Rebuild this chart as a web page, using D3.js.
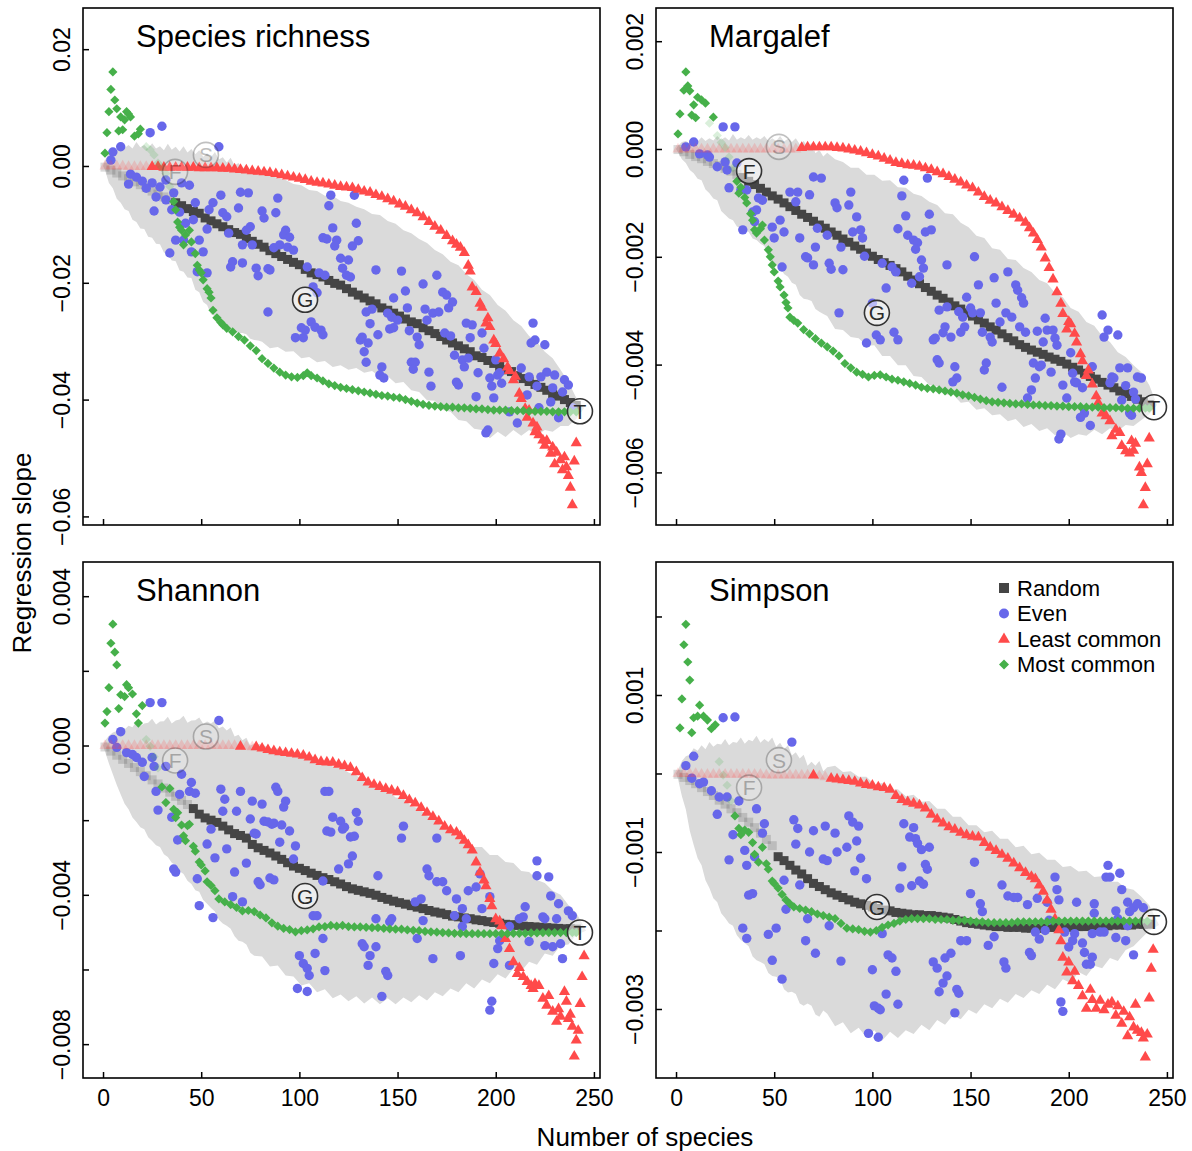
<!DOCTYPE html>
<html><head><meta charset="utf-8">
<script src="https://cdn.jsdelivr.net/npm/d3@7"></script>
<style>
body{margin:0;background:#fff}
text{font-family:"Liberation Sans",Arial,Helvetica,sans-serif;fill:#000}
</style>
</head><body>
<svg id="chart" width="1192" height="1151"></svg>
<script>
// ---- Regression slope vs number of species, four diversity indices ----
// Species counts on x; slopes stored in per-panel units (see unitN).

const xTicks = [0, 50, 100, 150, 200, 250];
const randomGrid = d3.range(1, 242, 3);   // species counts for the "Random" series

// ===== Panel 1: Species richness (values in 1e-3) =====
const unit1 = 1e-3;
const yTicks1 = [0.02, 0, -0.02, -0.04, -0.06];
const yLabels1 = [0.02, 0, -0.02, -0.04, -0.06];
const random1 = [-0.2,-0.7,-1.2,-1.7,-2.2,-2.7,-3.2,-3.7,-4.3,-4.8,-5.3,-5.8,-6.3,-6.8,-7.3,-7.8,-8.1,-8.9,-9.4,-9.9,
-10.4,-10.9,-11.4,-11.7,-12.4,-12.9,-13.4,-13.9,-14.5,-15.0,-15.5,-16.0,-16.5,-16.9,-17.7,-18.3,-18.6,-19.0,-19.6,-20.1,
-20.4,-21.0,-21.6,-22.1,-22.6,-23.1,-23.6,-24.3,-24.7,-25.2,-25.7,-26.2,-26.7,-27.0,-27.7,-28.2,-28.7,-29.2,-29.8,-30.3,
-30.8,-31.3,-31.8,-32.5,-32.8,-33.3,-33.8,-34.3,-34.9,-35.2,-35.9,-36.4,-36.9,-37.4,-37.9,-38.4,-39.1,-39.4,-40.0,-40.5,-41.0];
const least1 = [[1,0],[4,0],[7,0],[10,0],[13,-0.1],[16,-0.1],[19,-0.1],[22,-0.1],[25,-0.1],[28,-0.1],[31,-0.2],[34,-0.2],[37,-0.2],[40,-0.2],[43,-0.2],[46,-0.2],[49,-0.3],[52,-0.3],[55,-0.3],[58,-0.3],[61,-0.4],[64,-0.4],[67,-0.5],[70,-0.6],[73,-0.7],[76,-0.8],[79,-0.9],[82,-1.0],[85,-1.1],[88,-1.3],[91,-1.5],[94,-1.7],[97,-1.9],[100,-2.1],[103,-2.3],[106,-2.6],[109,-2.8],[112,-2.9],[115,-3.1],[118,-3.3],[121,-3.5],[124,-3.6],[127,-3.7],[130,-4.0],[133,-4.3],[136,-4.5],[139,-4.9],[142,-5.2],[145,-5.6],[148,-6.0],[151,-6.5],[154,-6.9],[157,-7.5],[160,-8.0],[163,-8.7],[166,-9.5],[169,-10.3],[172,-11.0],[175,-11.9],[178,-12.8],[180,-13.4],[182,-13.9],[184,-14.8],[186,-17.0],[187,-18.0],[188,-20.7],[190,-21.5],[192,-23.5],[193,-24.2],[195,-26.9],[196,-26.0],[197,-27.5],[199,-29.8],[200,-30.4],[202,-32.0],[204,-33.0],[206,-34.4],[207,-35.0],[209,-36.6],[210,-36.0],[212,-38.9],[213,-39.8],[215,-41.5],[216,-43.0],[217,-41.8],[219,-44.0],[220,-45.5],[221,-44.7],[222,-46.0],[224,-46.9],[225,-47.8],[226,-47.0],[228,-49.2],[229,-48.1],[230,-51.0],[231,-49.0],[233,-50.3],[234,-52.0],[235,-49.8],[236,-51.5],[237,-53.0],[238,-55.0],[239,-58.0],[240,-50.5],[241,-47.4]];
const most1 = [[1,2.2],[2,5.7],[3,9.3],[4,13.1],[5,16.1],[6,11.3],[7,9.8],[8,6.0],[9,8.4],[10,6.2],[11,7.9],[12,9.3],[13,8.9],[14,8.4],[16,5.1],[18,5.5],[19,6.3],[22,3.3],[24,2.8],[26,1.9],[28,0.5],[30,-0.3],[32,-1.3],[34,-3.5],[36,-6.1],[37,-7.5],[38,-9.6],[39,-10.5],[40,-11.0],[41,-13.5],[42,-11.8],[44,-11.0],[45,-13.0],[47,-15.0],[48,-17.0],[49,-17.8],[50,-18.3],[51,-19.5],[53,-21.0],[54,-21.6],[55,-22.6],[56,-24.7],[58,-26.0],[60,-26.8],[61,-27.2],[63,-27.8],[66,-28.4],[69,-29.2],[72,-29.8],[75,-30.8],[78,-31.6],[81,-33.0],[84,-33.8],[87,-34.6],[90,-35.3],[93,-35.8],[96,-36.1],[99,-36.2],[102,-35.9],[104,-35.4],[106,-35.9],[109,-36.3],[112,-36.8],[115,-37.3],[118,-37.6],[121,-37.9],[124,-38.1],[127,-38.3],[130,-38.5],[133,-38.7],[136,-38.9],[139,-39.1],[142,-39.3],[145,-39.4],[148,-39.6],[151,-39.7],[154,-40.0],[157,-40.3],[160,-40.6],[163,-40.8],[166,-41.0],[169,-41.1],[172,-41.2],[175,-41.3],[178,-41.3],[181,-41.4],[184,-41.4],[187,-41.5],[190,-41.6],[193,-41.6],[196,-41.7],[199,-41.8],[202,-41.8],[205,-41.8],[208,-41.9],[211,-41.9],[214,-41.9],[217,-42.0],[220,-42.0],[223,-42.0],[226,-42.0],[229,-42.1],[232,-42.1],[235,-42.1],[238,-42.1],[241,-42.1]];
const even1 = [[30,6.8],[24,5.7],[9,3.3],[5,2.4],[4,1.0],[59,3.3],[14,-1.4],[13,-3.1],[17,-1.9],[20,-2.6],[25,-2.9],[22,-3.8],[29,-3.6],[32,-2.4],[40,-2.9],[44,-3.3],[27,-5.3],[32,-5.8],[36,-4.6],[26,-7.7],[35,-7.5],[39,-7.9],[42,-9.8],[46,-9.2],[47,-6.3],[60,-5.0],[70,-4.5],[74,-4.6],[56,-6.3],[54,-7.5],[61,-8.0],[63,-8.7],[69,-7.2],[81,-7.7],[82,-8.9],[89,-5.5],[88,-8.0],[53,-10.8],[49,-12.7],[64,-11.5],[73,-11.0],[75,-10.4],[93,-11.0],[92,-11.8],[95,-12.2],[37,-12.7],[41,-12.7],[45,-14.7],[34,-14.9],[51,-14.7],[71,-13.5],[76,-13.5],[87,-14.0],[90,-13.5],[94,-13.9],[97,-14.4],[66,-16.4],[65,-17.3],[78,-17.5],[79,-18.8],[84,-17.6],[104,-17.3],[110,-18.3],[113,-18.7],[112,-12.3],[116,-5.0],[115,-6.8],[128,-5.0],[117,-10.6],[129,-9.8],[114,-12.5],[119,-12.7],[118,-13.7],[127,-13.7],[130,-12.8],[121,-15.8],[125,-16.1],[122,-17.5],[124,-18.7],[139,-17.8],[152,-18.0],[170,-18.7],[71,-16.6],[85,-17.8],[53,-18.3],[48,-18.1],[84,-25.0],[107,-20.7],[109,-21.7],[106,-26.7],[101,-27.7],[103,-28.1],[98,-29.4],[102,-29.4],[108,-27.6],[111,-28.1],[112,-28.9],[126,-19.0],[163,-20.2],[154,-21.4],[173,-21.6],[175,-22.1],[178,-23.3],[148,-22.6],[137,-24.5],[134,-25.0],[145,-25.2],[147,-25.9],[150,-26.4],[155,-24.3],[164,-24.5],[168,-25.2],[171,-25.0],[165,-26.4],[176,-24.3],[136,-27.0],[146,-27.9],[148,-27.7],[140,-28.9],[131,-29.8],[132,-29.3],[135,-30.3],[133,-31.8],[134,-33.6],[156,-28.2],[160,-29.3],[161,-30.6],[174,-28.6],[177,-29.1],[185,-26.9],[188,-27.2],[193,-28.6],[187,-29.4],[194,-31.2],[179,-32.4],[183,-33.2],[184,-34.4],[186,-32.9],[191,-35.4],[157,-33.6],[159,-33.6],[158,-34.8],[166,-35.3],[142,-34.4],[141,-35.8],[143,-36.3],[167,-37.7],[180,-37.0],[181,-37.5],[190,-39.5],[199,-39.7],[198,-37.7],[197,-36.3],[201,-35.8],[203,-37.2],[202,-35.4],[200,-33.2],[213,-34.6],[217,-36.1],[219,-26.9],[220,-29.8],[218,-30.3],[225,-30.6],[226,-35.3],[223,-36.1],[230,-35.8],[235,-36.6],[237,-37.5],[221,-37.7],[229,-38.0],[234,-38.7],[216,-39.2],[228,-40.4],[222,-41.4],[232,-43.1],[207,-42.1],[211,-44.0],[196,-45.2],[195,-45.7],[239,-41.4]];
// [species, upper, lower] of the null envelope
const band1 = [[0,0,0],[1,1.0,-0.7],[3,2.2,-2.9],[5,3.1,-3.8],[7,2.6,-5.6],[9,3.9,-6.3],[11,3.1,-7.4],[13,3.6,-7.7],[15,3.0,-9.2],[17,4.1,-9.6],[19,3.2,-10.7],[21,3.6,-10.8],[23,2.9,-12.1],[25,3.9,-12.3],[27,3.0,-13.3],[29,3.4,-13.4],[31,2.7,-14.8],[33,3.8,-15.2],[35,2.8,-16.2],[37,3.3,-16.3],[39,2.5,-17.9],[41,3.4,-18.1],[43,2.3,-19.1],[45,2.9,-19.2],[47,2.0,-21.2],[49,2.7,-21.6],[51,1.6,-23.3],[53,2.2,-23.8],[55,1.5,-25.4],[57,2.4,-25.7],[59,1.1,-26.4],[61,1.5,-26.7],[63,0.6,-27.2],[65,1.4,-27.6],[67,0.1,-28.4],[69,0.5,-28.6],[71,-0.5,-28.6],[73,0.3,-28.8],[75,-1.2,-29.6],[77,-0.7,-29.8],[79,-1.6,-29.9],[81,-0.9,-30.1],[85,-1.5,-31.2],[89,-2.1,-31.0],[93,-2.4,-31.8],[97,-3.1,-31.7],[101,-3.3,-32.9],[105,-4.1,-32.7],[109,-4.3,-33.6],[113,-5.1,-33.4],[117,-5.1,-34.4],[121,-6.0,-34.1],[125,-6.3,-34.9],[129,-7.0,-34.6],[133,-7.4,-35.4],[137,-8.2,-35.1],[141,-8.4,-36.1],[145,-9.4,-36.0],[149,-9.9,-37.2],[153,-11.0,-37.0],[157,-11.5,-38.4],[161,-12.5,-38.7],[165,-13.2,-40.1],[169,-14.4,-40.2],[173,-15.1,-41.8],[177,-16.4,-42.1],[181,-17.0,-43.5],[185,-18.5,-43.7],[189,-19.5,-45.0],[193,-21.2,-45.2],[197,-22.1,-46.6],[201,-23.8,-45.5],[205,-24.8,-46.4],[209,-26.4,-45.2],[213,-27.4,-46.2],[217,-29.1,-45.2],[221,-30.1,-46.1],[225,-31.8,-45.2],[229,-32.9,-45.5],[233,-34.9,-44.5],[237,-37.0,-44.5],[241,-39.7,-43.3],[245,-41.5,-41.5]];
const marks1 = [["S",52.4,1.9,true],["F",36.7,-1.0,true],["G",102.9,-22.9,false],["T",242.9,-42.0,false]];
const fade1 = {random:[[0,36.5]], least:[[0,24.5]], most:[[21,35]]};

// ===== Panel 2: Margalef (values in 1e-4) =====
const unit2 = 1e-4;
const yTicks2 = [0.002, 0, -0.002, -0.004, -0.006];
const yLabels2 = [0.002, 0, -0.002, -0.004, -0.006];
const random2 = [-0.1,-0.5,-1.0,-1.4,-1.8,-2.3,-2.7,-3.1,-3.6,-4.1,-4.7,-5.3,-6.0,-6.6,-7.3,-8.0,-8.7,-9.3,-10.0,-10.7,
-11.4,-12.1,-12.7,-13.4,-14.1,-14.7,-15.4,-16.0,-16.7,-17.3,-18.0,-18.6,-19.3,-19.9,-20.5,-21.1,-21.6,-22.2,-22.8,-23.6,
-24.3,-25.0,-25.7,-26.4,-27.1,-27.7,-28.4,-29.1,-29.7,-30.4,-31.0,-31.7,-32.3,-33.0,-33.6,-34.3,-35.0,-35.6,-36.3,-36.8,
-37.3,-37.7,-38.1,-38.6,-39.0,-39.4,-39.9,-40.5,-41.0,-41.6,-42.2,-42.7,-43.3,-43.8,-44.3,-44.9,-45.4,-45.9,-46.4,-46.9,-47.4];
const least2 = [[1,0],[4,0],[7,0],[10,0],[13,0],[16,0],[19,0],[22,0],[25,0],[28,0],[31,0],[34,0],[37,0],[40,0],[43,0],[46,0],[49,0],[52,0],[55,0],[58,0],[61,0],[64,0.3],[67,0.4],[70,0.4],[73,0.4],[76,0.4],[79,0.4],[82,0.3],[85,0.2],[88,0.0],[91,-0.2],[94,-0.4],[97,-0.7],[100,-1.0],[103,-1.3],[106,-1.7],[109,-2.1],[112,-2.5],[115,-2.7],[118,-2.9],[121,-3.0],[124,-3.2],[127,-3.5],[130,-3.8],[133,-4.2],[136,-4.6],[139,-5.1],[142,-5.6],[145,-6.1],[148,-6.7],[151,-7.2],[154,-8.0],[157,-8.8],[160,-9.5],[163,-10.0],[166,-10.7],[169,-11.4],[172,-12.1],[175,-12.8],[178,-13.6],[180,-14.6],[182,-15.6],[184,-16.8],[186,-18.2],[188,-20.2],[190,-22.0],[192,-24.1],[194,-26.5],[196,-28.6],[197,-30.5],[199,-33.4],[200,-32.0],[201,-32.4],[203,-34.2],[204,-35.8],[206,-38.0],[207,-39.3],[209,-42.0],[210,-41.0],[212,-43.6],[214,-45.8],[215,-47.0],[217,-49.0],[219,-49.5],[221,-50.4],[222,-53.2],[224,-52.0],[226,-52.6],[227,-55.0],[229,-56.0],[231,-56.4],[232,-54.1],[233,-55.9],[234,-54.6],[236,-59.0],[237,-60.0],[238,-66.0],[239,-62.8],[240,-58.4],[241,-53.6]];
const most2 = [[1,2.8],[2,6.5],[4,10.9],[5,14.3],[6,11.7],[7,10.8],[8,6.3],[9,8.2],[10,5.8],[11,9.6],[13,9.1],[15,8.5],[17,4.8],[19,5.9],[21,2.5],[23,1.2],[25,0.3],[27,-1.5],[29,-3.5],[31,-6.0],[32,-8.2],[33,-7.1],[35,-9.0],[36,-10.0],[38,-12.0],[39,-13.2],[40,-15.0],[41,-15.6],[43,-14.8],[44,-14.1],[45,-16.9],[47,-18.7],[48,-20.0],[49,-21.5],[50,-22.8],[52,-24.5],[53,-25.6],[55,-27.1],[56,-28.5],[57,-29.5],[58,-31.2],[60,-31.8],[62,-32.3],[65,-33.5],[68,-34.3],[71,-35.2],[74,-36.0],[77,-36.7],[80,-37.5],[83,-38.4],[86,-39.8],[89,-40.6],[92,-41.4],[95,-41.8],[98,-42.3],[101,-42.0],[104,-41.9],[107,-42.3],[110,-42.7],[113,-42.9],[116,-43.2],[119,-43.5],[122,-43.8],[125,-44.2],[128,-44.4],[131,-44.5],[134,-44.7],[137,-44.9],[140,-45.1],[143,-45.3],[146,-45.6],[149,-45.8],[152,-46.1],[155,-46.4],[158,-46.7],[161,-46.9],[164,-47.0],[167,-47.1],[170,-47.2],[173,-47.3],[176,-47.3],[179,-47.4],[182,-47.5],[185,-47.5],[188,-47.6],[191,-47.6],[194,-47.7],[197,-47.7],[200,-47.8],[203,-47.8],[206,-47.8],[209,-47.9],[212,-47.9],[215,-47.9],[218,-48.0],[221,-48.0],[224,-48.0],[227,-48.1],[230,-48.1],[233,-48.1],[236,-48.1],[239,-48.1],[241,-48.1]];
const even2 = [[24,4.1],[30,4.1],[5,0.4],[9,1.3],[12,-0.9],[16,-1.1],[17,-1.5],[21,-3.3],[25,-2.4],[26,-3.9],[31,-2.6],[27,-7.2],[33,-7.6],[36,-7.6],[42,-9.1],[44,-9.5],[41,-11.3],[58,-8.0],[62,-8.0],[61,-9.8],[68,-8.5],[70,-5.2],[74,-5.4],[89,-8.0],[81,-10.0],[82,-10.9],[88,-10.4],[39,-11.7],[40,-13.5],[34,-15.0],[49,-14.5],[53,-13.2],[55,-15.4],[50,-16.5],[63,-16.5],[72,-14.7],[77,-16.0],[84,-18.2],[90,-15.4],[92,-12.6],[94,-15.0],[95,-16.5],[71,-18.2],[67,-20.2],[66,-20.0],[78,-21.2],[79,-22.3],[85,-22.4],[54,-21.9],[96,-19.9],[105,-21.2],[110,-21.9],[113,-14.8],[116,-5.8],[128,-5.4],[115,-8.7],[117,-12.4],[129,-12.1],[127,-15.4],[130,-15.0],[118,-16.0],[121,-16.9],[123,-17.4],[122,-18.6],[125,-20.6],[126,-22.1],[138,-21.5],[152,-20.0],[169,-22.8],[162,-23.9],[124,-23.7],[112,-22.8],[70,-21.5],[107,-25.8],[83,-30.4],[111,-34.0],[102,-34.5],[104,-35.4],[97,-36.0],[113,-35.4],[100,-28.6],[120,-24.9],[154,-25.2],[148,-27.5],[163,-28.6],[173,-25.2],[174,-26.2],[176,-27.6],[177,-28.6],[134,-29.9],[138,-29.3],[144,-30.2],[146,-31.2],[150,-29.5],[151,-30.4],[155,-30.4],[168,-30.4],[171,-31.2],[165,-32.1],[188,-31.4],[217,-30.8],[220,-33.6],[218,-34.9],[225,-34.5],[137,-33.0],[132,-35.1],[131,-35.4],[136,-34.1],[140,-34.9],[145,-34.0],[147,-33.0],[156,-34.0],[160,-34.9],[161,-35.8],[175,-33.0],[178,-34.0],[184,-33.8],[189,-33.6],[192,-33.6],[187,-35.8],[193,-35.1],[194,-36.4],[201,-37.8],[202,-41.6],[203,-43.2],[197,-43.8],[212,-40.4],[222,-42.3],[223,-42.5],[226,-40.6],[230,-40.6],[235,-42.3],[237,-42.5],[133,-39.1],[134,-39.7],[142,-40.4],[143,-42.5],[141,-43.2],[158,-39.7],[157,-41.0],[166,-44.2],[182,-39.7],[185,-40.4],[186,-40.1],[191,-41.4],[183,-42.5],[181,-44.7],[179,-46.2],[199,-46.2],[204,-43.4],[207,-44.3],[221,-43.4],[229,-43.9],[233,-45.1],[227,-46.6],[234,-46.4],[231,-49.0],[208,-49.0],[206,-49.8],[211,-51.3],[196,-52.9],[195,-53.8],[232,-49.4]];
const band2 = [[0,0,0],[1,0.6,-0.6],[3,1.3,-1.9],[5,1.5,-2.6],[7,1.0,-3.9],[9,1.9,-4.5],[11,1.4,-5.5],[13,2.2,-5.8],[15,1.5,-7.5],[17,2.0,-8.2],[19,1.6,-9.2],[21,2.4,-9.5],[23,1.7,-11.5],[25,2.2,-12.2],[27,1.6,-12.9],[29,2.8,-13.2],[31,1.7,-14.4],[33,2.2,-14.7],[35,1.8,-15.1],[37,2.6,-15.4],[39,1.7,-16.6],[41,2.2,-16.9],[43,1.8,-17.6],[45,2.4,-18.0],[47,1.5,-20.4],[49,2.0,-21.2],[51,1.5,-21.5],[53,2.4,-21.9],[55,1.4,-23.2],[57,1.9,-23.7],[59,1.3,-24.8],[61,2.0,-25.2],[63,0.9,-27.1],[65,1.5,-27.8],[67,0.4,-27.9],[69,1.1,-28.2],[71,-0.8,-29.7],[73,-0.2,-30.2],[75,-1.4,-30.6],[77,-0.7,-31.0],[81,-1.9,-33.4],[85,-2.4,-33.6],[89,-3.5,-34.9],[93,-3.5,-35.1],[97,-4.8,-36.5],[101,-4.8,-36.4],[105,-5.9,-38.4],[109,-5.8,-38.4],[113,-7.1,-40.1],[117,-7.2,-40.1],[121,-8.3,-42.1],[125,-8.7,-42.3],[129,-9.8,-43.8],[133,-10.4,-44.0],[137,-11.9,-45.6],[141,-12.1,-45.5],[145,-13.7,-47.1],[149,-14.5,-46.9],[153,-16.1,-48.4],[157,-16.5,-48.1],[161,-18.4,-49.4],[165,-18.7,-49.2],[169,-20.4,-50.5],[173,-20.6,-50.1],[177,-22.1,-51.6],[181,-22.8,-51.0],[185,-24.3,-52.3],[189,-24.9,-51.8],[193,-26.7,-53.1],[197,-27.5,-52.5],[201,-29.5,-53.6],[205,-30.2,-52.9],[209,-32.1,-53.2],[213,-32.8,-52.1],[217,-34.7,-52.9],[221,-35.8,-51.8],[225,-37.7,-52.3],[229,-38.6,-51.2],[233,-40.1,-51.4],[237,-41.4,-50.3],[241,-43.8,-49.2],[245,-47.5,-47.5]];
const marks2 = [["S",52.4,0.4,true],["F",37.2,-4.1,false],["G",102.3,-30.4,false],["T",243.4,-47.9,false]];
const fade2 = {random:[[0,32.5]], least:[[0,63]], most:[[16.5,17.5],[20,30.5]]};

// ===== Panel 3: Shannon (values in 1e-4) =====
const unit3 = 1e-4;
const yTicks3 = [0.004, 0.002, 0, -0.002, -0.004, -0.006, -0.008];
const yLabels3 = [0.004, 0, -0.004, -0.008];
const random3 = [-0.4,-1.5,-2.6,-3.7,-4.8,-5.9,-7.0,-8.1,-9.2,-10.3,-11.4,-12.5,-13.6,-14.7,-15.8,-16.9,-18.4,-19.4,-20.0,-20.6,
-21.6,-22.6,-23.6,-24.1,-24.8,-26.5,-27.4,-28.1,-28.8,-29.6,-30.5,-31.4,-32.3,-32.9,-33.5,-34.2,-34.8,-35.4,-35.9,-36.5,
-37.1,-37.8,-38.4,-38.8,-39.2,-39.6,-40.1,-40.7,-41.2,-41.7,-42.1,-42.5,-42.9,-43.3,-43.7,-44.2,-44.6,-44.9,-45.3,-45.7,
-45.9,-46.2,-46.4,-46.7,-46.9,-47.2,-47.4,-47.6,-47.9,-48.0,-48.2,-48.4,-48.5,-48.6,-48.7,-48.8,-48.9,-49.0,-49.1,-49.1,-49.2];
const least3 = [[1,0],[4,0],[7,0],[10,0],[13,0],[16,0],[19,0],[22,0],[25,0],[28,0],[31,0],[34,0],[37,0],[40,0],[43,0],[46,0],[49,0],[52,0],[55,0],[58,0],[61,0],[64,0],[67,0],[70,-0.2],[73,-0.2],[76,-0.3],[78,-0.3],[81,-0.7],[84,-1.1],[87,-1.4],[90,-1.7],[93,-1.9],[96,-2.1],[99,-2.3],[102,-2.6],[105,-3.1],[108,-3.8],[111,-4.3],[114,-4.4],[117,-4.5],[120,-5.0],[123,-5.4],[126,-5.9],[129,-7.0],[132,-8.6],[135,-9.8],[138,-10.4],[141,-11.0],[144,-11.5],[147,-12.0],[150,-12.4],[153,-13.4],[156,-14.5],[159,-15.4],[162,-16.6],[165,-17.9],[168,-19.0],[171,-20.2],[174,-21.6],[177,-22.6],[180,-23.2],[182,-24.2],[184,-25.4],[186,-26.6],[188,-28.0],[190,-31.2],[192,-33.9],[194,-36.0],[195,-37.6],[197,-41.0],[198,-42.9],[200,-46.4],[202,-47.0],[203,-48.3],[205,-51.7],[207,-54.4],[209,-57.9],[211,-61.1],[212,-59.5],[214,-61.9],[216,-63.2],[218,-64.3],[219,-65.1],[220,-63.8],[222,-64.3],[224,-67.7],[226,-69.6],[227,-67.0],[229,-71.2],[231,-73.9],[232,-70.5],[233,-72.5],[235,-65.9],[236,-68.5],[237,-73.1],[238,-72.0],[239,-75.2],[240,-83.2],[241,-78.9],[242,-76.3],[243,-69.1],[244,-61.9],[245,-56.3]];
const most3 = [[1,6.0],[2,9.1],[3,15.5],[4,27.4],[5,32.5],[6,25.0],[7,21.6],[8,9.9],[9,13.6],[11,13.1],[12,16.3],[13,15.5],[15,13.8],[17,8.5],[18,6.0],[20,10.7],[22,1.6],[24,-0.2],[26,-3.0],[28,-6.0],[30,-11.1],[32,-15.3],[34,-11.5],[36,-17.1],[37,-19.3],[38,-18.0],[40,-21.3],[41,-24.2],[42,-25.5],[43,-21.5],[44,-21.1],[46,-27.0],[47,-28.3],[49,-31.2],[50,-32.0],[52,-33.6],[53,-36.5],[55,-37.5],[57,-38.9],[59,-41.1],[62,-41.9],[65,-42.6],[68,-43.4],[71,-44.3],[74,-44.2],[77,-44.5],[80,-45.4],[83,-46.2],[86,-47.5],[89,-48.4],[92,-49.0],[95,-49.3],[98,-49.9],[101,-49.6],[104,-49.4],[107,-49.1],[110,-48.6],[113,-48.5],[116,-48.2],[119,-48.4],[122,-48.2],[125,-48.5],[128,-48.6],[131,-48.6],[134,-48.7],[137,-48.8],[140,-48.8],[143,-49.0],[146,-49.1],[149,-49.2],[152,-49.2],[155,-49.4],[158,-49.5],[161,-49.6],[164,-49.8],[167,-49.9],[170,-50.0],[173,-50.1],[176,-50.2],[179,-50.3],[182,-50.3],[185,-50.4],[188,-50.4],[191,-50.4],[194,-50.4],[197,-50.4],[200,-50.4],[203,-50.4],[206,-50.4],[209,-50.3],[212,-50.3],[215,-50.3],[218,-50.2],[221,-50.2],[224,-50.1],[227,-50.1],[230,-50.1],[233,-50.1],[236,-50.1],[239,-50.1],[241,-50.1]];
const even3 = [[24,11.5],[30,11.5],[59,6.7],[9,3.7],[5,1.6],[7,-0.5],[12,-1.9],[15,-2.4],[17,-3.2],[20,-4.5],[25,-3.2],[26,-5.6],[32,-5.6],[40,-7.7],[21,-8.3],[45,-9.9],[27,-12.3],[39,-13.1],[44,-12.3],[47,-12.8],[60,-11.7],[70,-12.3],[88,-11.2],[89,-12.3],[62,-14.4],[76,-14.9],[81,-15.7],[93,-14.9],[92,-16.5],[28,-17.3],[35,-19.2],[61,-17.6],[68,-17.6],[75,-19.7],[82,-20.3],[87,-20.8],[91,-21.3],[95,-22.9],[55,-22.4],[77,-23.5],[38,-25.3],[113,-12.3],[115,-12.3],[129,-17.9],[130,-20.3],[117,-19.2],[121,-20.3],[122,-22.4],[114,-22.9],[126,-24.5],[153,-21.6],[152,-24.8],[170,-24.8],[84,-20.5],[86,-21.1],[78,-23.7],[90,-25.9],[98,-26.9],[63,-27.7],[53,-26.4],[57,-30.1],[73,-31.5],[67,-33.9],[36,-33.1],[37,-33.9],[48,-35.7],[79,-36.5],[80,-37.3],[85,-35.5],[87,-36.0],[66,-40.5],[71,-41.9],[49,-42.9],[56,-46.1],[97,-30.4],[116,-23.2],[120,-33.1],[125,-31.7],[127,-29.6],[128,-24.3],[123,-21.9],[112,-36.3],[107,-45.6],[109,-45.6],[112,-51.7],[100,-56.3],[102,-58.4],[104,-59.7],[105,-61.6],[108,-55.7],[113,-60.3],[99,-65.1],[104,-65.9],[132,-53.1],[133,-53.9],[136,-56.3],[139,-53.9],[135,-58.9],[144,-60.5],[145,-61.6],[142,-67.2],[140,-34.9],[147,-46.4],[146,-47.2],[139,-46.4],[165,-33.1],[166,-34.9],[170,-36.5],[173,-36.5],[175,-38.9],[180,-41.1],[162,-41.1],[159,-41.9],[163,-46.9],[160,-51.7],[168,-57.1],[182,-56.3],[185,-46.4],[186,-38.9],[190,-37.9],[192,-34.4],[197,-40.5],[198,-68.5],[197,-70.9],[199,-58.4],[201,-54.4],[202,-52.3],[207,-48.5],[207,-58.9],[212,-46.4],[215,-43.2],[221,-30.9],[221,-34.9],[227,-35.2],[228,-40.3],[225,-46.4],[225,-53.6],[229,-53.9],[231,-46.4],[232,-42.4],[237,-44.3],[239,-45.6],[234,-57.1],[233,-53.1],[214,-45.9],[224,-45.9],[217,-52.5],[193,-43.7],[183,-43.7],[179,-45.6],[183,-48.5]];
const band3 = [[0,0,0],[1,1.3,-1.6],[3,2.6,-4.8],[5,3.5,-7.7],[7,3.9,-10.6],[9,4.8,-13.1],[11,4.3,-15.6],[13,5.3,-17.1],[15,4.9,-19.3],[17,6.4,-20.5],[19,5.2,-21.9],[21,5.9,-22.4],[23,6.1,-24.6],[25,7.2,-25.6],[27,5.6,-26.7],[29,6.4,-27.2],[31,6.5,-29.1],[33,7.7,-29.9],[35,5.9,-31.4],[37,6.7,-32.0],[39,7.0,-33.7],[41,8.0,-34.4],[43,6.1,-36.2],[45,6.7,-37.1],[47,6.8,-38.8],[49,7.5,-39.2],[51,5.8,-41.4],[53,6.4,-42.4],[55,5.9,-43.5],[57,6.7,-44.5],[59,4.6,-46.7],[61,5.1,-47.7],[63,4.0,-48.3],[65,4.8,-49.1],[67,2.4,-51.1],[69,2.9,-52.3],[71,1.4,-52.6],[73,2.1,-53.3],[75,0.0,-55.5],[77,0.5,-56.3],[81,0.3,-56.5],[85,-0.8,-59.2],[89,-0.8,-58.9],[93,-1.9,-61.6],[97,-1.6,-61.9],[101,-2.9,-64.3],[105,-3.2,-63.7],[109,-4.3,-66.1],[113,-4.5,-65.3],[117,-5.6,-67.7],[121,-5.9,-66.7],[125,-7.2,-68.5],[129,-8.0,-67.2],[133,-9.6,-69.1],[137,-10.1,-67.5],[141,-12.0,-69.3],[145,-12.0,-67.7],[149,-13.9,-69.3],[153,-14.1,-67.5],[157,-16.3,-68.8],[161,-16.8,-66.9],[165,-18.9,-68.3],[169,-19.7,-66.1],[173,-22.1,-67.2],[177,-22.9,-65.1],[181,-25.1,-66.1],[185,-25.3,-63.7],[189,-27.2,-65.1],[193,-27.2,-62.7],[197,-29.3,-63.7],[201,-29.3,-61.3],[205,-31.2,-62.4],[209,-31.5,-59.7],[213,-33.6,-60.5],[217,-33.9,-57.9],[221,-36.0,-58.7],[225,-36.8,-55.7],[229,-38.9,-56.3],[233,-40.0,-53.6],[237,-42.7,-53.3],[241,-44.8,-50.7],[246,-49.6,-49.6]];
const marks3 = [["S",52.4,2.4,true],["F",36.7,-4.0,true],["G",102.9,-40.3,false],["T",242.9,-50.1,false]];
const fade3 = {random:[[0,45]], least:[[0,69],[71.5,77]], most:[[21,29]]};

// ===== Panel 4: Simpson (values in 1e-4) =====
const unit4 = 1e-4;
const yTicks4 = [0.002, 0.001, 0, -0.001, -0.002, -0.003];
const yLabels4 = [0.001, -0.001, -0.003];
const random4 = [-0.1,-0.5,-0.9,-1.3,-1.8,-2.3,-2.8,-3.4,-3.9,-4.5,-5.0,-5.6,-6.2,-6.9,-7.6,-8.4,-9.2,-10.6,-11.1,-11.7,
-12.3,-12.8,-13.4,-14.0,-14.4,-14.8,-15.2,-15.5,-15.8,-16.1,-16.4,-16.6,-16.8,-17.0,-17.2,-17.4,-17.5,-17.7,-17.8,-17.9,
-18.0,-18.0,-18.1,-18.1,-18.2,-18.3,-18.4,-18.6,-18.8,-19.0,-19.1,-19.2,-19.3,-19.4,-19.5,-19.5,-19.6,-19.6,-19.6,-19.7,
-19.7,-19.7,-19.7,-19.6,-19.6,-19.6,-19.6,-19.5,-19.5,-19.5,-19.4,-19.4,-19.4,-19.4,-19.3,-19.3,-19.3,-19.3,-19.2,-19.2,-19.2];
const least4 = [[1,0],[4,0],[7,0],[10,0],[13,-0.1],[16,-0.1],[19,-0.1],[22,-0.1],[25,-0.1],[28,-0.1],[31,-0.1],[34,-0.1],[37,-0.1],[40,-0.1],[43,-0.1],[46,-0.2],[49,-0.2],[52,-0.2],[55,-0.2],[58,-0.2],[61,-0.2],[64,-0.2],[67,-0.2],[70,-0.2],[73,-0.3],[76,-0.4],[79,-0.6],[82,-0.7],[85,-0.8],[88,-0.9],[91,-1.0],[94,-1.2],[97,-1.4],[100,-1.5],[103,-1.7],[106,-1.8],[109,-2.0],[112,-2.8],[115,-3.3],[118,-3.6],[121,-3.8],[124,-4.0],[127,-4.4],[130,-5.2],[133,-5.8],[136,-6.3],[139,-6.8],[142,-7.1],[145,-7.5],[148,-7.8],[151,-8.0],[154,-8.1],[157,-8.8],[160,-9.4],[163,-9.8],[166,-10.3],[169,-10.8],[172,-11.4],[175,-12.0],[178,-12.6],[181,-13.1],[183,-13.4],[185,-14.2],[187,-15.0],[189,-16.1],[191,-17.3],[193,-18.5],[195,-19.9],[196,-21.3],[197,-23.4],[199,-25.3],[200,-24.0],[202,-26.4],[203,-25.2],[205,-27.0],[207,-28.3],[209,-29.9],[211,-27.5],[212,-28.8],[214,-29.9],[216,-28.9],[218,-30.1],[220,-29.4],[222,-29.1],[224,-30.8],[225,-29.6],[227,-31.8],[228,-30.3],[230,-33.4],[231,-31.0],[233,-32.3],[234,-29.4],[235,-32.7],[237,-33.0],[238,-33.7],[239,-36.1],[240,-33.2],[241,-28.6],[242,-24.8],[243,-22.4]];
const most4 = [[2,5.8],[3,9.5],[4,16.4],[5,19.0],[6,14.2],[7,11.9],[8,5.2],[9,7.1],[11,7.3],[12,8.7],[14,7.3],[16,6.8],[18,5.7],[20,6.2],[22,1.5],[24,-0.2],[26,-1.5],[28,-3.5],[30,-5.4],[32,-7.0],[33,-7.8],[35,-7.2],[37,-7.5],[39,-8.8],[40,-10.3],[42,-11.3],[44,-9.4],[46,-11.5],[47,-12.2],[49,-13.7],[50,-14.0],[52,-14.6],[54,-15.4],[56,-16.1],[58,-16.6],[60,-17.0],[63,-17.2],[66,-17.4],[69,-17.6],[72,-17.9],[75,-18.1],[78,-18.3],[81,-18.5],[84,-19.1],[87,-19.7],[90,-19.8],[93,-19.9],[96,-20.1],[99,-20.2],[102,-20.0],[105,-19.6],[108,-19.3],[111,-19.1],[114,-18.8],[117,-18.6],[120,-18.5],[123,-18.5],[126,-18.5],[129,-18.5],[132,-18.6],[135,-18.6],[138,-18.6],[141,-18.7],[144,-18.7],[147,-18.7],[150,-18.8],[153,-18.9],[156,-18.9],[159,-19.0],[162,-19.0],[165,-19.0],[168,-19.0],[171,-19.0],[174,-18.9],[177,-18.9],[180,-18.9],[183,-18.9],[186,-18.9],[189,-18.9],[192,-18.8],[195,-18.8],[198,-18.8],[201,-18.8],[204,-18.8],[207,-18.8],[210,-18.8],[213,-18.8],[216,-18.8],[219,-18.8],[222,-18.8],[225,-18.8],[228,-18.8],[231,-18.8],[234,-18.8],[237,-18.8],[240,-18.8]];
const even4 = [[24,7.1],[30,7.2],[59,4.0],[9,2.2],[5,1.0],[8,-0.6],[12,-1.3],[14,-1.1],[18,-2.2],[22,-3.0],[26,-3.0],[32,-3.5],[41,-4.5],[21,-5.2],[29,-7.8],[45,-6.4],[44,-7.6],[35,-9.8],[40,-10.6],[27,-11.0],[36,-11.7],[60,-5.9],[62,-7.0],[76,-6.7],[81,-7.6],[70,-7.3],[88,-5.4],[90,-6.2],[93,-6.7],[61,-9.0],[68,-10.0],[75,-10.9],[77,-11.1],[87,-9.4],[92,-8.6],[94,-10.8],[91,-12.4],[97,-13.4],[82,-10.0],[55,-13.6],[63,-14.2],[39,-15.3],[37,-15.5],[34,-19.7],[36,-21.0],[56,-17.3],[67,-18.5],[78,-19.4],[49,-23.8],[54,-26.2],[47,-20.5],[51,-19.7],[66,-21.3],[71,-22.9],[84,-23.9],[100,-25.0],[105,-20.4],[108,-23.1],[110,-23.5],[112,-25.2],[107,-28.1],[113,-29.4],[101,-29.6],[103,-29.9],[104,-30.1],[98,-33.1],[103,-33.6],[116,-6.4],[121,-6.9],[119,-8.1],[122,-8.3],[123,-8.9],[125,-9.7],[129,-9.4],[127,-11.6],[128,-12.2],[124,-13.7],[120,-14.3],[115,-11.9],[114,-14.6],[126,-14.1],[131,-24.0],[133,-24.8],[137,-23.5],[138,-25.8],[140,-22.9],[136,-26.7],[134,-27.8],[143,-27.5],[144,-28.0],[142,-30.5],[145,-21.3],[148,-21.3],[150,-15.3],[152,-11.3],[155,-16.6],[156,-17.6],[159,-21.9],[162,-20.8],[166,-14.2],[167,-24.0],[168,-24.8],[169,-15.6],[172,-15.8],[174,-15.8],[179,-16.7],[180,-22.8],[181,-23.2],[183,-20.2],[185,-21.1],[188,-20.0],[184,-15.9],[189,-16.4],[190,-18.7],[193,-13.2],[194,-14.8],[195,-16.1],[196,-29.1],[197,-30.3],[198,-20.2],[200,-22.1],[202,-21.3],[203,-20.4],[204,-16.4],[207,-21.6],[208,-22.8],[209,-24.3],[211,-24.3],[212,-23.4],[212,-20.4],[213,-16.6],[213,-17.8],[216,-20.2],[218,-20.2],[220,-11.7],[219,-13.2],[221,-13.2],[226,-12.7],[227,-14.8],[224,-17.5],[225,-18.5],[230,-16.4],[231,-17.6],[233,-17.1],[235,-16.6],[238,-17.1],[224,-20.9],[229,-21.3],[233,-23.1],[230,-19.4]];
const band4 = [[0,0,0],[1,0.4,-0.7],[3,1.6,-2.9],[5,2.2,-4.6],[7,2.4,-7.3],[9,3.2,-9.1],[11,2.9,-10.8],[13,3.6,-11.7],[15,3.1,-13.6],[17,4.0,-14.6],[19,3.4,-15.9],[21,3.8,-16.4],[23,3.7,-17.8],[25,4.4,-18.4],[27,3.6,-19.1],[29,4.0,-19.4],[31,3.9,-20.6],[33,4.6,-21.2],[35,3.8,-21.6],[37,4.3,-22.0],[39,4.1,-23.3],[41,4.8,-23.8],[43,3.9,-24.0],[45,4.4,-24.3],[47,4.0,-25.4],[49,4.6,-25.8],[51,3.4,-25.9],[53,3.9,-26.2],[55,3.1,-27.5],[57,3.6,-27.9],[59,2.3,-27.8],[61,2.7,-28.1],[63,1.9,-29.3],[65,2.4,-29.6],[67,1.0,-29.3],[69,1.5,-29.6],[71,1.0,-30.7],[73,1.6,-31.0],[75,0.3,-30.2],[77,0.8,-30.6],[81,1.0,-32.2],[85,0.2,-31.7],[89,0.3,-33.1],[93,-0.4,-32.4],[97,-0.4,-33.6],[101,-1.4,-32.7],[105,-1.2,-34.0],[109,-2.1,-32.9],[113,-2.0,-33.7],[117,-2.9,-32.7],[121,-2.7,-33.2],[125,-3.6,-32.0],[129,-3.5,-32.7],[133,-4.5,-31.4],[137,-4.5,-32.0],[141,-5.5,-30.8],[145,-5.5,-31.3],[149,-6.6,-30.1],[153,-6.6,-30.6],[157,-7.5,-29.4],[161,-7.3,-29.9],[165,-8.3,-28.7],[169,-8.3,-29.2],[173,-9.4,-28.1],[177,-9.2,-28.6],[181,-10.3,-27.6],[185,-10.1,-28.1],[189,-11.0,-26.9],[193,-11.0,-27.5],[197,-11.9,-26.2],[201,-11.8,-26.7],[205,-12.5,-25.3],[209,-12.4,-25.8],[213,-13.2,-24.5],[217,-13.1,-24.8],[221,-13.8,-23.5],[225,-13.8,-23.9],[229,-14.6,-22.5],[233,-14.8,-22.0],[237,-15.7,-21.0],[241,-16.8,-20.0],[246,-19.3,-19.3]];
const marks4 = [["S",52.4,1.7,true],["F",37.2,-1.8,true],["G",102.3,-17.0,false],["T",243.4,-18.9,false]];
const fade4 = {random:[[0,50]], least:[[0,69],[71.5,78]], most:[[21,29]]};

const legendItems = ["Random", "Even", "Least common", "Most common"];

// ---- styling ----
const COL = {random:"#454545", even:"#6767ea", least:"#ff4a4a", most:"#46b04a", band:"#dadada"};
const FADED = 0.2;
const trianglePath = "M0,-6.2L5.6,3.5L-5.6,3.5Z";
const diamondPath = "M0,-4.6L4.6,0L0,4.6L-4.6,0Z";
const SQ = 9;

const panels = [
  {title:"Species richness", left:83, top:8, bottom:525, unit:unit1, yDom:[0.02705,-0.06147], fmt:".2f", yTicks:yTicks1, yLabels:yLabels1, random:random1, least:least1, most:most1, even:even1, band:band1, marks:marks1, fade:fade1, xLabels:false},
  {title:"Margalef", left:656, top:8, bottom:525, unit:unit2, yDom:[0.002616,-0.006976], fmt:".3f", yTicks:yTicks2, yLabels:yLabels2, random:random2, least:least2, most:most2, even:even2, band:band2, marks:marks2, fade:fade2, xLabels:false},
  {title:"Shannon", left:83, top:562, bottom:1078, unit:unit3, yDom:[0.004916,-0.008907], fmt:".3f", yTicks:yTicks3, yLabels:yLabels3, random:random3, least:least3, most:most3, even:even3, band:band3, marks:marks3, fade:fade3, xLabels:true},
  {title:"Simpson", left:656, top:562, bottom:1078, unit:unit4, yDom:[0.002694,-0.003879], fmt:".3f", yTicks:yTicks4, yLabels:yLabels4, random:random4, least:least4, most:most4, even:even4, band:band4, marks:marks4, fade:fade4, xLabels:true, legend:true}
];

const svg = d3.select("#chart");
const inRanges = (ranges, s) => ranges.some(([a, b]) => s >= a && s <= b);

panels.forEach((p, pi) => {
  const W = 517;
  const g = svg.append("g");
  const x = d3.scaleLinear().domain([-10.2, 253.1]).range([p.left, p.left + W]);
  const y = d3.scaleLinear().domain(p.yDom).range([p.top, p.bottom]);
  const Y = v => y(v * p.unit);

  const clipId = "clip" + pi;
  svg.append("clipPath").attr("id", clipId).append("rect")
    .attr("x", p.left).attr("y", p.top).attr("width", W).attr("height", p.bottom - p.top);
  const plot = g.append("g").attr("clip-path", `url(#${clipId})`);

  // envelope of the null model
  plot.append("path").datum(p.band)
    .attr("fill", COL.band)
    .attr("d", d3.area().x(d => x(d[0])).y0(d => Y(d[2])).y1(d => Y(d[1])).curve(d3.curveLinear));

  // Random: squares
  const rnd = p.random.map((v, i) => [randomGrid[i], v]);
  plot.append("g").selectAll("rect").data(rnd).join("rect")
    .attr("x", d => x(d[0]) - SQ / 2).attr("y", d => Y(d[1]) - SQ / 2)
    .attr("width", SQ).attr("height", SQ)
    .attr("fill", COL.random)
    .attr("opacity", d => inRanges(p.fade.random, d[0]) ? FADED : 1);

  // Even: circles
  plot.append("g").selectAll("circle").data(p.even).join("circle")
    .attr("cx", d => x(d[0])).attr("cy", d => Y(d[1])).attr("r", 4.7)
    .attr("fill", COL.even);

  // Least common: triangles
  plot.append("g").selectAll("path").data(p.least).join("path")
    .attr("d", trianglePath)
    .attr("transform", d => `translate(${x(d[0])},${Y(d[1])})`)
    .attr("fill", COL.least)
    .attr("opacity", d => inRanges(p.fade.least, d[0]) ? FADED : 1);

  // Most common: diamonds
  plot.append("g").selectAll("path").data(p.most).join("path")
    .attr("d", diamondPath)
    .attr("transform", d => `translate(${x(d[0])},${Y(d[1])})`)
    .attr("fill", COL.most)
    .attr("opacity", d => inRanges(p.fade.most, d[0]) ? FADED : 1);

  // reference communities S, F, G, T
  const mk = g.append("g").selectAll("g").data(p.marks).join("g")
    .attr("transform", d => `translate(${x(d[1])},${Y(d[2])})`)
    .attr("opacity", d => d[3] ? 0.3 : 1);
  mk.append("circle").attr("r", 12.5)
    .attr("fill", "#fff").attr("fill-opacity", 0.55)
    .attr("stroke", "#333").attr("stroke-width", 1.6);
  mk.append("text").text(d => d[0])
    .attr("text-anchor", "middle").attr("dy", "0.36em")
    .style("font-size", "21px").style("fill", "#2a2a2a");

  // axes
  const fmt = d3.format(p.fmt);
  const yAxis = d3.axisLeft(y).tickValues(p.yTicks).tickSizeInner(-6).tickSizeOuter(0)
    .tickFormat(d => p.yLabels.includes(d) ? fmt(d) : "");
  const gy = g.append("g").attr("transform", `translate(${p.left},0)`).call(yAxis);
  gy.select(".domain").remove();
  gy.selectAll("line").attr("stroke-width", 1.5);
  gy.selectAll("text")
    .attr("x", 0).attr("y", 0).attr("dy", "0.35em")
    .attr("transform", "translate(-21,0) rotate(-90)")
    .attr("text-anchor", "middle")
    .style("font-size", "23px").style("font-family", '"Liberation Sans", Arial, sans-serif');

  const xAxis = d3.axisBottom(x).tickValues(xTicks).tickSizeInner(-6).tickSizeOuter(0).tickPadding(12)
    .tickFormat(d => p.xLabels ? String(d) : "");
  const gx = g.append("g").attr("transform", `translate(0,${p.bottom})`).call(xAxis);
  gx.select(".domain").remove();
  gx.selectAll("line").attr("stroke-width", 1.5);
  gx.selectAll("text").style("font-size", "23px").style("font-family", '"Liberation Sans", Arial, sans-serif');

  // frame
  g.append("rect").attr("x", p.left).attr("y", p.top).attr("width", W).attr("height", p.bottom - p.top)
    .attr("fill", "none").attr("stroke", "#000").attr("stroke-width", 1.6);

  // panel title
  g.append("text").attr("x", p.left + 53).attr("y", p.top + 39)
    .text(p.title).style("font-size", "31px");

  // legend
  if (p.legend) {
    const lg = g.append("g").attr("transform", `translate(${p.left + 348},${p.top + 26})`);
    const rows = lg.selectAll("g").data(legendItems).join("g")
      .attr("transform", (d, i) => `translate(0,${i * 25.5})`);
    rows.append("text").attr("x", 13).attr("dy", "0.35em").text(d => d).style("font-size", "22px");
    rows.filter((d, i) => i === 0).append("rect").attr("x", -5).attr("y", -5).attr("width", 10).attr("height", 10).attr("fill", COL.random);
    rows.filter((d, i) => i === 1).append("circle").attr("r", 5).attr("fill", COL.even);
    rows.filter((d, i) => i === 2).append("path").attr("d", "M0,-6.5L6,3.8L-6,3.8Z").attr("fill", COL.least);
    rows.filter((d, i) => i === 3).append("path").attr("d", "M0,-5L5,0L0,5L-5,0Z").attr("fill", COL.most);
  }
});

// shared axis titles
svg.append("text").attr("x", 645).attr("y", 1146).attr("text-anchor", "middle")
  .text("Number of species").style("font-size", "26px");
svg.append("text").attr("transform", "translate(31,553) rotate(-90)").attr("text-anchor", "middle")
  .text("Regression slope").style("font-size", "26px");
</script>
</body></html>
